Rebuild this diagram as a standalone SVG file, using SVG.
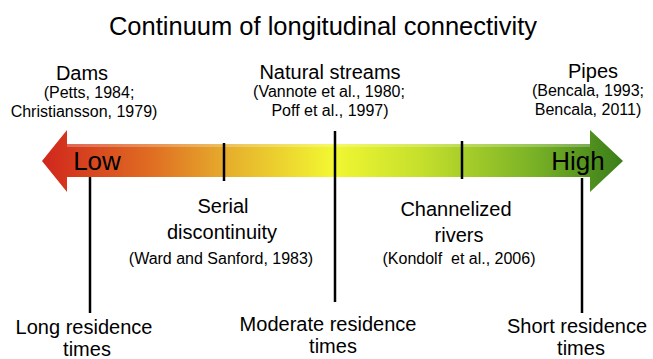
<svg xmlns="http://www.w3.org/2000/svg" width="653" height="359" viewBox="0 0 653 359">
  <style>
    text { font-family: "Liberation Sans", Arial, sans-serif; fill: #000; text-anchor: middle; }
    .title { font-size: 25.5px; }
    .head { font-size: 20px; }
    .ref { font-size: 16px; white-space: pre; }
    .big { font-size: 26px; }
    .tick { stroke: #000; stroke-width: 2.5; }
  </style>
  <defs>
    <linearGradient id="grad" x1="42" y1="0" x2="623" y2="0" gradientUnits="userSpaceOnUse">
      <stop offset="0" stop-color="#d0261c"/>
      <stop offset="0.18" stop-color="#df6a22"/>
      <stop offset="0.32" stop-color="#e6ae2c"/>
      <stop offset="0.5" stop-color="#f2f732"/>
      <stop offset="0.65" stop-color="#c6e02c"/>
      <stop offset="0.85" stop-color="#78b126"/>
      <stop offset="1" stop-color="#3a7d1a"/>
    </linearGradient>
  </defs>

  <text class="title" x="323" y="35">Continuum of longitudinal connectivity</text>

  <!-- double-headed arrow -->
  <g id="arrow">
    <path d="M42,161 L67,130 L67,144 L590,144 L590,130 L623,161 L590,192 L590,177 L67,177 L67,192 Z" fill="url(#grad)"/>
    <rect x="67" y="144" width="523" height="3" fill="#fff" opacity="0.25"/>
    <text class="big" x="97" y="170">Low</text>
    <text class="big" x="578" y="170">High</text>
  </g>

  <g id="connectors">
    <line class="tick" x1="224" y1="143" x2="224" y2="181"/>
    <line class="tick" x1="462" y1="141" x2="462" y2="179"/>
    <line class="tick" x1="335" y1="131" x2="335" y2="302"/>
    <line class="tick" x1="90" y1="177" x2="90" y2="313"/>
    <line class="tick" x1="582" y1="178" x2="582" y2="313"/>
  </g>

  <g id="dams">
    <text class="head" x="82" y="80">Dams</text>
    <text class="ref" x="89" y="98">(Petts, 1984;</text>
    <text class="ref" x="84" y="117">Christiansson, 1979)</text>
  </g>
  <g id="natural">
    <text class="head" x="330" y="79">Natural streams</text>
    <text class="ref" x="329" y="97">(Vannote et al., 1980;</text>
    <text class="ref" x="330" y="116">Poff et al., 1997)</text>
  </g>
  <g id="pipes">
    <text class="head" x="593" y="78">Pipes</text>
    <text class="ref" x="588" y="96">(Bencala, 1993;</text>
    <text class="ref" x="588" y="115">Bencala, 2011)</text>
  </g>
  <g id="serial">
    <text class="head" x="223" y="213">Serial</text>
    <text class="head" x="222" y="239">discontinuity</text>
    <text class="ref" x="221" y="264">(Ward and Sanford, 1983)</text>
  </g>
  <g id="channelized">
    <text class="head" x="456" y="216">Channelized</text>
    <text class="head" x="459" y="242">rivers</text>
    <text class="ref" x="459" y="264">(Kondolf  et al., 2006)</text>
  </g>
  <g id="long">
    <text class="head" x="84" y="334">Long residence</text>
    <text class="head" x="87" y="356">times</text>
  </g>
  <g id="moderate">
    <text class="head" x="328" y="331">Moderate residence</text>
    <text class="head" x="333" y="353">times</text>
  </g>
  <g id="short">
    <text class="head" x="577" y="333">Short residence</text>
    <text class="head" x="581" y="355">times</text>
  </g>
</svg>
